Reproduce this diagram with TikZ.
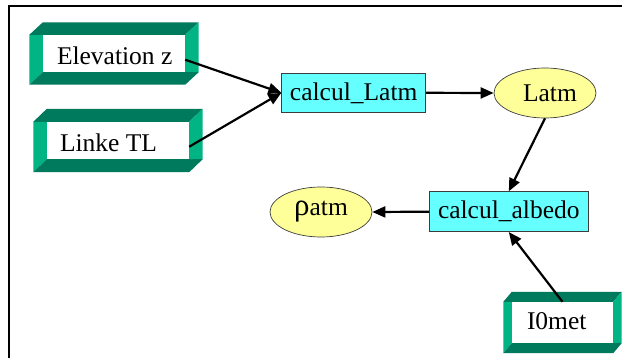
\documentclass[tikz,border=0pt]{standalone}
\usepackage{fontspec}
\setmainfont{Liberation Serif}
\usetikzlibrary{arrows.meta,calc,shapes.geometric}
\definecolor{bevdark}{RGB}{0,122,92}
\definecolor{bevlight}{RGB}{0,180,132}
\definecolor{proccyan}{RGB}{102,255,255}
\definecolor{datayel}{RGB}{255,255,153}
\definecolor{edgegray}{RGB}{60,60,60}
\newcommand\bevelframe[3]{%
  \fill[bevlight] (#1.north west) -- ($(#1.north west)+(-#2,0)$) -- ($(#1.south west)+(-#2,#3)$) -- (#1.south west) -- cycle;
  \fill[bevdark] ($(#1.north west)+(-#2,0)$) -- ($(#1.north west)+(0,-#3)$) -- ($(#1.north east)+(#2,-#3)$) -- (#1.north east) -- (#1.north west) -- cycle;
  \fill[bevlight] (#1.north east) -- ($(#1.north east)+(#2,-#3)$) -- ($(#1.south east)+(#2,0)$) -- (#1.south east) -- cycle;
  \fill[bevdark] ($(#1.south west)+(-#2,#3)$) -- (#1.south west) -- (#1.south east) -- ($(#1.south east)+(#2,0)$) -- ($(#1.south east)+(0,#3)$) -- cycle;
}
\begin{document}
\begin{tikzpicture}[x=1pt,y=-1pt,
  txt/.style={font=\fontsize{25.5}{28}\selectfont, inner sep=0pt},
  inner/.style={rectangle, fill=white, inner sep=0pt},
  proc/.style={rectangle, draw=edgegray, line width=0.7pt, fill=proccyan, inner sep=0pt, font=\fontsize{25.5}{28}\selectfont},
  data/.style={ellipse, draw=edgegray, line width=0.7pt, fill=datayel, inner sep=0pt, minimum width=102pt, minimum height=50pt, font=\fontsize{25.5}{28}\selectfont},
  conn/.style={line width=2.2pt, -{Triangle[length=13pt,width=11pt]}}]
\useasboundingbox (0,0) rectangle (622,358);
\coordinate (fbl) at (9,358);
\coordinate (ftl) at (9,6);
\coordinate (ftr) at (622,6);
\draw[line width=1.5pt] (fbl) -- (ftl) -- (ftr);

% input boxes
\node[inner, minimum width=142pt, minimum height=37pt] (elev) at (114,53.5) {};
\bevelframe{elev}{13.5}{12.5}
\node[txt, anchor=base west] (elevtxt) at ($(elev.west)+(14,11.5)$) {Elevation z};

\node[inner, minimum width=142pt, minimum height=37pt] (linke) at (118,140.5) {};
\bevelframe{linke}{13.5}{13}
\node[txt, anchor=base west] (linketxt) at ($(linke.west)+(13,11.2)$) {Linke TL};

\node[inner, minimum width=101pt, minimum height=41pt] (i0) at (562.5,322.5) {};
\bevelframe{i0}{8.5}{10}
\node[txt, anchor=base west] (i0txt) at ($(i0.west)+(15,7.5)$) {I0met};

% processes
\node[proc, minimum width=144pt, minimum height=39pt] (clatm) at (353.7,92.8) {calcul\_Latm};
\node[proc, minimum width=159pt, minimum height=40pt] (calb) at (508.8,211.7) {calcul\_albedo};

% data
\node[data] (latm) at (545,93) {\hspace{10pt}Latm};
\node[data] (ratm) at (321,212) {{\fontsize{31}{31}\selectfont ρ}atm};

% connectors
\draw[conn] (elev.-5) -- (clatm.west);
\draw[conn] (linke.-5) -- (clatm.west);
\draw[conn] (clatm.east) -- (latm.west);
\draw[conn] (latm.south) -- (calb.north);
\draw[conn] (calb.west) -- (ratm.east);
\draw[conn] (i0.north) -- (calb.south);
\end{tikzpicture}
\end{document}
